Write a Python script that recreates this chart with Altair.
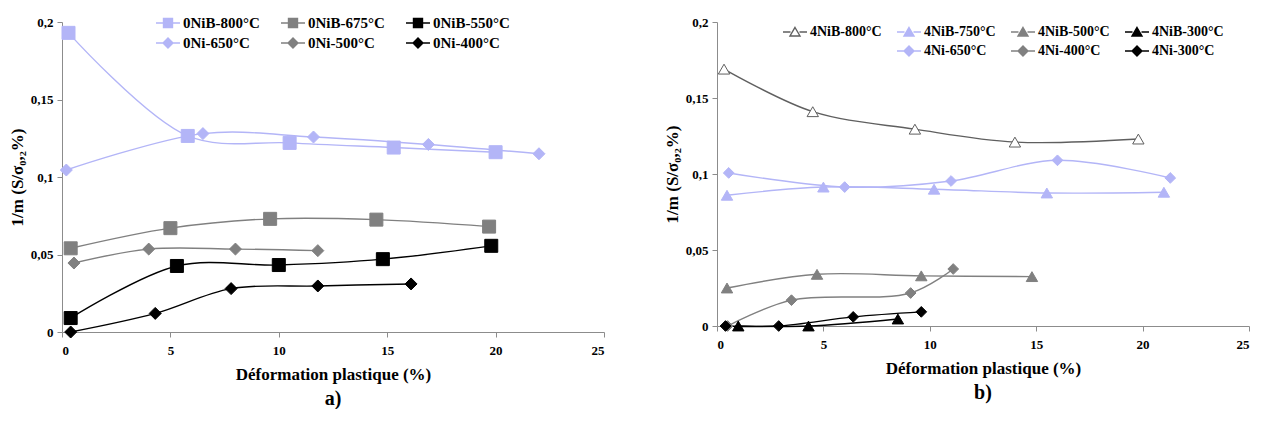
import altair as alt
import pandas as pd

# ---------------- Panel a) data ----------------
a_nib800_x = [0.3, 5.8, 10.5, 15.3, 20.0]
a_nib800_y = [0.193, 0.1265, 0.122, 0.119, 0.116]
a_nib675_x = [0.4, 5.0, 9.6, 14.5, 19.7]
a_nib675_y = [0.054, 0.067, 0.073, 0.0725, 0.068]
a_nib550_x = [0.4, 5.3, 10.0, 14.8, 19.8]
a_nib550_y = [0.009, 0.0426, 0.0432, 0.047, 0.0556]
a_ni650_x = [0.2, 6.5, 11.6, 16.9, 22.0]
a_ni650_y = [0.1045, 0.128, 0.1258, 0.121, 0.115]
a_ni500_x = [0.55, 4.0, 8.0, 11.8]
a_ni500_y = [0.0445, 0.0535, 0.0535, 0.0525]
a_ni400_x = [0.4, 4.3, 7.8, 11.8, 16.1]
a_ni400_y = [0.0, 0.012, 0.028, 0.0297, 0.031]

# ---------------- Panel b) data ----------------
b_nib800_x = [0.33, 4.5, 9.3, 14.0, 19.8]
b_nib800_y = [0.169, 0.141, 0.1295, 0.121, 0.123]
b_nib750_x = [0.47, 5.0, 10.2, 15.5, 21.0]
b_nib750_y = [0.086, 0.0914, 0.090, 0.0875, 0.088]
b_nib500_x = [0.47, 4.7, 9.6, 14.8]
b_nib500_y = [0.025, 0.034, 0.033, 0.0325]
b_nib300_x = [1.0, 4.3, 8.5]
b_nib300_y = [0.0, 0.0, 0.0046]
b_ni650_x = [0.55, 6.0, 11.0, 16.0, 21.3]
b_ni650_y = [0.1007, 0.0914, 0.0954, 0.109, 0.0974]
b_ni400_x = [0.5, 3.5, 9.1, 11.1]
b_ni400_y = [0.0, 0.017, 0.0217, 0.0375]
b_ni300_x = [0.4, 2.9, 6.4, 9.6]
b_ni300_y = [0.0, 0.0, 0.006, 0.0093]

x_ticks = [0, 5, 10, 15, 20, 25]
y_ticks = [0, 0.05, 0.1, 0.15, 0.2]

LB = "#b3b5f7"
GR = "#808080"
BK = "#000000"
DG = "#5f5f5f"
FONT = "Liberation Serif"


def frame(pairs):
    rows = []
    for name, xs, ys in pairs:
        for xv, yv in zip(xs, ys):
            rows.append({"series": name, "x": xv, "y": yv})
    return pd.DataFrame(rows)


a_df = frame([
    ("0NiB-800°C", a_nib800_x, a_nib800_y),
    ("0NiB-675°C", a_nib675_x, a_nib675_y),
    ("0NiB-550°C", a_nib550_x, a_nib550_y),
    ("0Ni-650°C", a_ni650_x, a_ni650_y),
    ("0Ni-500°C", a_ni500_x, a_ni500_y),
    ("0Ni-400°C", a_ni400_x, a_ni400_y),
])
b_df = frame([
    ("4NiB-800°C", b_nib800_x, b_nib800_y),
    ("4NiB-750°C", b_nib750_x, b_nib750_y),
    ("4NiB-500°C", b_nib500_x, b_nib500_y),
    ("4NiB-300°C", b_nib300_x, b_nib300_y),
    ("4Ni-650°C", b_ni650_x, b_ni650_y),
    ("4Ni-400°C", b_ni400_x, b_ni400_y),
    ("4Ni-300°C", b_ni300_x, b_ni300_y),
])

LINE = "M-1.2,0H-0.45M0.45,0H1.2"
SQ = LINE + "M-0.45,-0.45H0.45V0.45H-0.45Z"
DI = LINE + "M-0.5,0L0,-0.5L0.5,0L0,0.5Z"
TR = LINE + "M0,-0.45L0.5,0.4L-0.5,0.4Z"
BLANK = "M0,0"

# style table: series -> (marker shape, fill, stroke, size, legend path)
style = {
    "0NiB-800°C": ("square", LB, LB, 169, SQ),
    "0NiB-675°C": ("square", GR, GR, 169, SQ),
    "0NiB-550°C": ("square", BK, BK, 169, SQ),
    "0Ni-650°C": ("diamond", LB, LB, 144, DI),
    "0Ni-500°C": ("diamond", GR, GR, 144, DI),
    "0Ni-400°C": ("diamond", BK, BK, 144, DI),
    "4NiB-800°C": ("triangle-up", "white", DG, 130, TR),
    "4NiB-750°C": ("triangle-up", LB, LB, 130, TR),
    "4NiB-500°C": ("triangle-up", GR, GR, 130, TR),
    "4NiB-300°C": ("triangle-up", BK, BK, 130, TR),
    "4Ni-650°C": ("diamond", LB, LB, 115, DI),
    "4Ni-400°C": ("diamond", GR, GR, 115, DI),
    "4Ni-300°C": ("diamond", BK, BK, 115, DI),
    " ": ("circle", "transparent", "transparent", 0, BLANK),
}

y_title = "1/m (S/σ₀,₂%)"
x_title = "Déformation plastique (%)"


def panel(df, order, legend_order, w, h, lx, ly, lfs, colpad, label):
    xs = alt.X("x:Q", scale=alt.Scale(domain=[0, 25], nice=False),
               axis=alt.Axis(values=x_ticks, title=x_title, titlePadding=9, labelPadding=7))
    ys = alt.Y("y:Q", scale=alt.Scale(domain=[0, 0.2], nice=False),
               axis=alt.Axis(values=y_ticks, title=y_title, titlePadding=4,
                             labelExpr="replace(toString(datum.value), '.', ',')"))
    base = alt.Chart(df)
    lines = base.mark_line(interpolate="catmull-rom", strokeWidth=1.4).encode(
        x=xs, y=ys,
        color=alt.Color("series:N", scale=alt.Scale(domain=order, range=[style[s][2] for s in order]), legend=None),
        detail="series:N",
    )
    layers = [lines]
    for s in order:
        layers.append(
            base.transform_filter(alt.datum.series == s).mark_point(
                shape=style[s][0], size=style[s][3], filled=True, fill=style[s][1],
                stroke=style[s][2], strokeWidth=1, opacity=1
            ).encode(x=xs, y=ys)
        )
    leg = alt.Legend(
        title=None, orient="none", legendX=lx, legendY=ly, columns=len(legend_order) // 2,
        direction="horizontal",
        symbolSize=400, symbolStrokeWidth=1.4, labelFont=FONT, labelFontWeight="bold",
        labelFontSize=lfs, labelColor="black", labelOffset=4, columnPadding=colpad,
        rowPadding=1, padding=0, labelLimit=200,
    )
    legend_layer = base.transform_filter("false").mark_point(size=400, opacity=1).encode(
        shape=alt.Shape("series:N", scale=alt.Scale(domain=legend_order, range=[style[s][4] for s in legend_order]), legend=leg),
        fill=alt.Fill("series:N", scale=alt.Scale(domain=legend_order, range=[style[s][1] for s in legend_order]), legend=leg),
        stroke=alt.Stroke("series:N", scale=alt.Scale(domain=legend_order, range=[style[s][2] for s in legend_order]), legend=leg),
    )
    layers.append(legend_layer)
    return alt.layer(*layers).resolve_scale(
        color="independent", shape="independent", fill="independent", stroke="independent"
    ).properties(
        width=w, height=h,
        title=alt.TitleParams(label, orient="bottom", fontSize=20, font=FONT, fontWeight="bold",
                              frame="group", anchor="middle", offset=7, color="black"),
    )


a_order = ["0NiB-800°C", "0NiB-675°C", "0NiB-550°C", "0Ni-650°C", "0Ni-500°C", "0Ni-400°C"]
b_order = ["4NiB-800°C", "4NiB-750°C", "4NiB-500°C", "4NiB-300°C", "4Ni-650°C", "4Ni-400°C", "4Ni-300°C"]
b_legend = ["4NiB-800°C", "4NiB-750°C", "4NiB-500°C", "4NiB-300°C", " ", "4Ni-650°C", "4Ni-400°C", "4Ni-300°C"]

pa = panel(a_df, a_order, a_order, 542, 310, 95, -10, 15, 18, "a)")
pb = panel(b_df, b_order, b_legend, 532, 304, 67, -1, 14, 12, "b)")

chart = alt.hconcat(pa, pb, spacing=58).properties(
    padding={"left": 0, "top": 4, "right": 0, "bottom": 0}
).configure_view(stroke=None).configure_axis(
    domainColor="#8c8c8c", tickColor="#8c8c8c", grid=False,
    labelFont=FONT, labelFontWeight="bold", labelFontSize=13, labelColor="black",
    titleFont=FONT, titleFontWeight="bold", titleFontSize=17, titleColor="black",
    tickSize=5, labelPadding=4,
)

chart.save("out.html", embed_options={"renderer": "svg", "actions": False})
